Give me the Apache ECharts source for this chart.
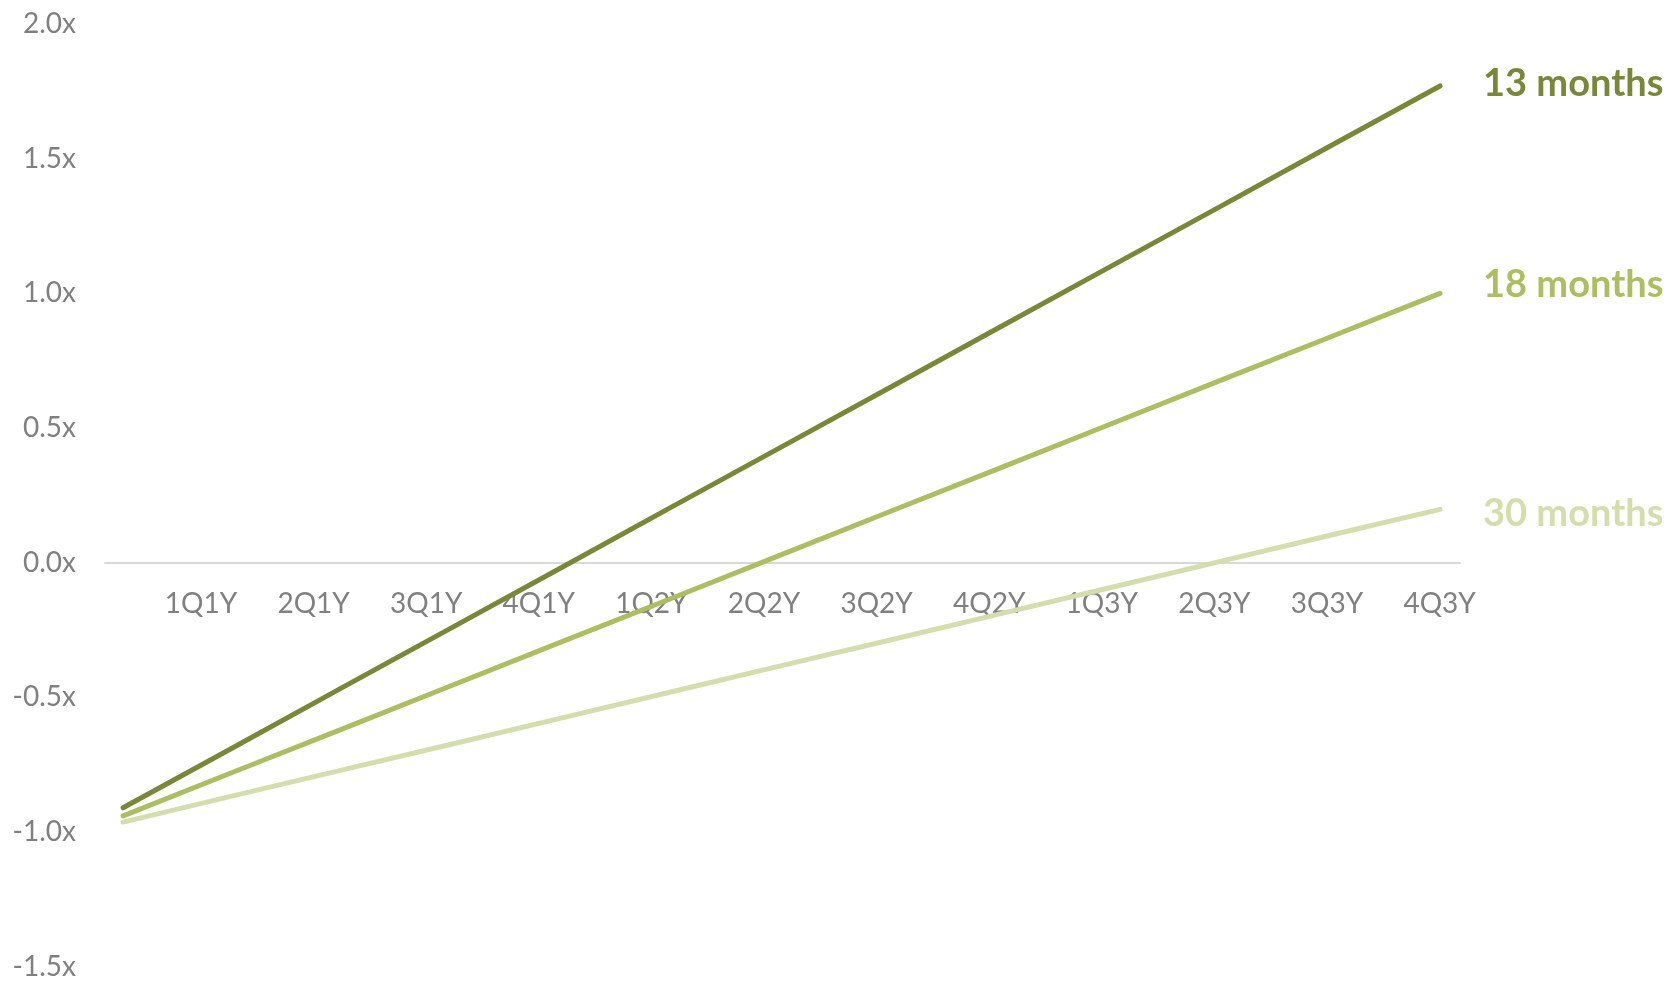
<!DOCTYPE html>
<html>
<head>
<meta charset="utf-8">
<script src="https://cdn.jsdelivr.net/npm/echarts@6/dist/echarts.min.js"></script>
<style>
html,body{margin:0;padding:0;background:#fff;}
#chart{width:1670px;height:981px;}
</style>
</head>
<body>
<div id="chart"></div>
<script>
// Tick labels under the zero line
const categories = ["1Q1Y","2Q1Y","3Q1Y","4Q1Y","1Q2Y","2Q2Y","3Q2Y","4Q2Y","1Q3Y","2Q3Y","3Q3Y","4Q3Y"];
// Point positions (starting point plus one per quarter)
const steps = [0,1,2,3,4,5,6,7,8,9,10,11,12];
// Series values (multiple, x)
const months13 = [-0.910,-0.687,-0.463,-0.240,-0.017,0.207,0.430,0.653,0.877,1.100,1.323,1.547,1.770];
const months18 = [-0.940,-0.778,-0.617,-0.455,-0.293,-0.132,0.030,0.192,0.353,0.515,0.677,0.838,1.000];
const months30 = [-0.963,-0.866,-0.769,-0.673,-0.576,-0.479,-0.382,-0.286,-0.189,-0.092,0.005,0.102,0.198];
const seriesNames = ["13 months","18 months","30 months"];
const yTicks = [-1.5,-1.0,-0.5,0.0,0.5,1.0,1.5,2.0];

const chart = echarts.init(document.getElementById('chart'));
const FONT = 'Lato, "Open Sans", sans-serif';
const colors = ['#7A8738','#ADBE62','#D4DEAC'];
const topPx = 24, bottomPx = 14.3;
const zeroFromBottom = 418.3; // px from canvas bottom to the zero line

function mkSeries(name, vals, color, offY, z) {
  return {
    name: name,
    type: 'line',
    xAxisIndex: 0, yAxisIndex: 0,
    data: vals.map((v, i) => [steps[i], v]),
    symbol: 'none',
    z: z,
    lineStyle: { color: color, width: 5, cap: 'round' },
    itemStyle: { color: color },
    endLabel: {
      show: true,
      formatter: '{a}',
      color: color,
      fontFamily: FONT,
      fontWeight: 'bold',
      fontSize: 38,
      distance: 43,
      offset: [0, offY]
    },
    emphasis: { disabled: true }
  };
}

chart.setOption({
  animation: false,
  backgroundColor: '#ffffff',
  grid: [
    { left: 105, right: 210, top: topPx, bottom: bottomPx, containLabel: false },
    { left: 144.7, right: 174.1, top: topPx, bottom: zeroFromBottom, containLabel: false }
  ],
  xAxis: [
    {
      type: 'value', gridIndex: 0,
      min: -0.165, max: 12.182,
      axisLine: { show: true, onZero: true, lineStyle: { color: '#D9D9D9', width: 2 } },
      axisTick: { show: false },
      axisLabel: { show: false },
      splitLine: { show: false }
    },
    {
      type: 'category', gridIndex: 1,
      position: 'bottom',
      data: categories,
      boundaryGap: true,
      axisLine: { show: false, onZero: false },
      axisTick: { show: false },
      axisLabel: {
        interval: 0, margin: 27,
        color: '#808080', fontFamily: FONT, fontSize: 28
      },
      splitLine: { show: false }
    }
  ],
  yAxis: [
    {
      type: 'value', gridIndex: 0,
      min: yTicks[0], max: yTicks[yTicks.length - 1], interval: 0.5,
      axisLine: { show: false },
      axisTick: { show: false },
      splitLine: { show: false },
      axisLabel: {
        margin: 29,
        color: '#808080', fontFamily: FONT, fontSize: 28,
        padding: [3, 0, 0, 0],
        formatter: v => v.toFixed(1) + 'x'
      }
    },
    {
      type: 'value', gridIndex: 1,
      min: 0, max: 1,
      show: false
    }
  ],
  series: [
    mkSeries(seriesNames[2], months30, colors[2], 4, 2),
    mkSeries(seriesNames[1], months18, colors[1], -9, 3),
    mkSeries(seriesNames[0], months13, colors[0], -2, 4)
  ]
});
</script>
</body>
</html>
